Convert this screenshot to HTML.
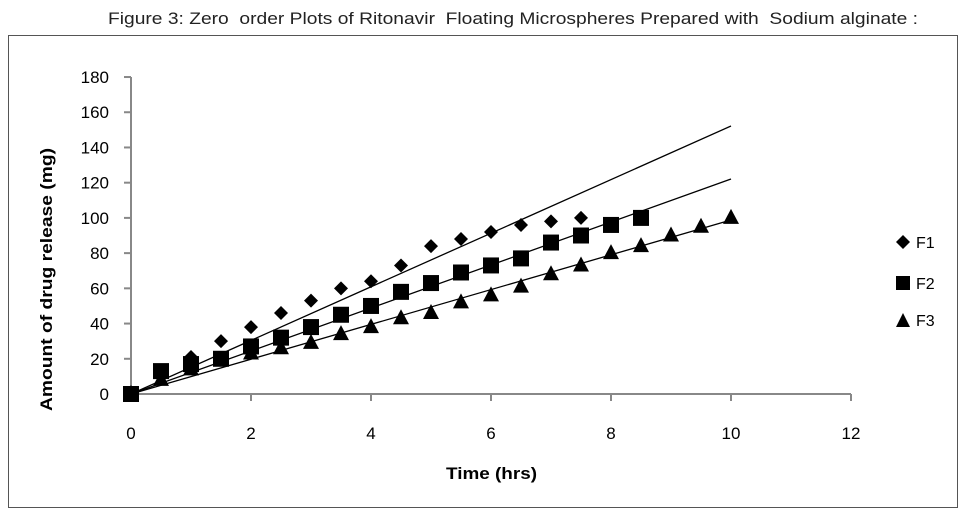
<!DOCTYPE html>
<html><head><meta charset="utf-8"><style>
body{margin:0;background:#fff;width:964px;height:516px;overflow:hidden}
svg{font-family:"Liberation Sans",sans-serif}
</style></head><body>
<svg id="s" width="964" height="516" xmlns="http://www.w3.org/2000/svg">
<text x="108" y="24" font-size="17" fill="#222" textLength="810" lengthAdjust="spacingAndGlyphs" style="white-space:pre">Figure 3: Zero  order Plots of Ritonavir  Floating Microspheres Prepared with  Sodium alginate :</text>
<rect x="8.5" y="35.5" width="949" height="472" fill="none" stroke="#555" stroke-width="1"/>
<g id="g"></g>
<text x="446" y="479" font-size="17" font-weight="bold" textLength="91" lengthAdjust="spacingAndGlyphs">Time (hrs)</text>
<text transform="translate(52,411) rotate(-90)" font-size="17" font-weight="bold" textLength="263" lengthAdjust="spacingAndGlyphs">Amount of drug release (mg)</text>
<path d="M903 235 L910 242 L903 249 L896 242Z"/>
<text x="916" y="248" font-size="16">F1</text>
<rect x="896" y="276" width="14" height="14"/>
<text x="916" y="289" font-size="16">F2</text>
<path d="M903 313 L910 327 L896 327Z"/>
<text x="916" y="326" font-size="16">F3</text>
</svg>
<script>
var g=document.getElementById('g'),h='';
function X(t){return 131+t*60}function Y(v){return 394-v*1.761}
h+='<line x1="131" y1="77" x2="131" y2="394" stroke="#888" stroke-width="2"/>';
h+='<line x1="130" y1="394" x2="851" y2="394" stroke="#888" stroke-width="2"/>';
for(var v=0;v<=180;v+=20){var y=Y(v);h+='<line x1="124" y1="'+y+'" x2="131" y2="'+y+'" stroke="#888" stroke-width="2"/><text x="109" y="'+(y+6)+'" text-anchor="end" font-size="17">'+v+'</text>';}
for(var t=0;t<=12;t+=2){var x=X(t);h+='<line x1="'+x+'" y1="394" x2="'+x+'" y2="401" stroke="#888" stroke-width="2"/><text x="'+x+'" y="439" text-anchor="middle" font-size="17">'+t+'</text>';}
h+='<line x1="131" y1="394" x2="731" y2="126" stroke="#000" stroke-width="1.3"/>';
h+='<line x1="131" y1="394" x2="731" y2="179" stroke="#000" stroke-width="1.3"/>';
h+='<line x1="131" y1="394" x2="731" y2="220" stroke="#000" stroke-width="1.3"/>';
var f1=[0,10,21,30,38,46,53,60,64,73,84,88,92,96,98,100];
var f2=[0,13,17,20,27,32,38,45,50,58,63,69,73,77,86,90,96,100];
var f3=[0,8,14,19,23,26,29,34,38,43,46,52,56,61,68,73,80,84,90,95,100];
f3.forEach(function(v,i){var x=X(i/2),y=Y(v);h+='<path d="M'+x+' '+(y-9)+' L'+(x+8)+' '+(y+6)+' L'+(x-8)+' '+(y+6)+'Z"/>';});
f2.forEach(function(v,i){var x=X(i/2),y=Y(v);h+='<rect x="'+(x-8)+'" y="'+(y-8)+'" width="16" height="16"/>';});
f1.forEach(function(v,i){var x=X(i/2),y=Y(v);h+='<path d="M'+x+' '+(y-7)+' L'+(x+7)+' '+y+' L'+x+' '+(y+7)+' L'+(x-7)+' '+y+'Z"/>';});
g.innerHTML=h;
</script>
</body></html>
